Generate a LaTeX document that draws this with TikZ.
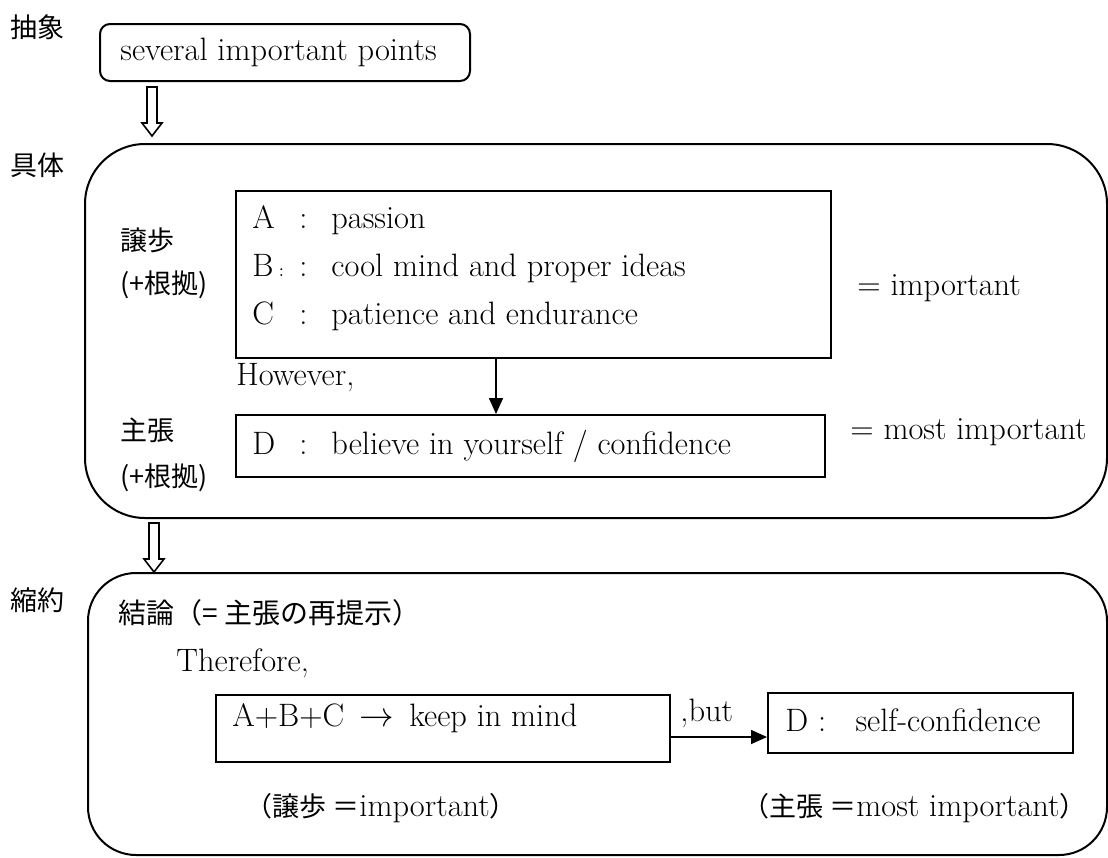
\documentclass[tikz,border=0pt]{standalone}
\usepackage{fontspec}
\newfontfamily\jp{Noto Sans CJK JP}
\usetikzlibrary{calc,positioning,arrows.meta}

\tikzset{
  box/.style={draw, line width=1pt, inner sep=0pt},
  roundbox/.style={box, rounded corners=#1},
  txt/.style={anchor=west, inner sep=0pt},
  jlbl/.style={txt, font=\jp\fontsize{13.5}{15}\selectfont},
  link/.style={-{Triangle[length=8pt,width=7pt]}, line width=0.8pt},
  fat/.style={draw, line width=0.8pt, fill=white, line join=miter},
}
\newcommand{\hollowdown}[1]{\draw[fat] (#1) ++(-5,0) -- ++(0,36) -- ++(-5,0) -- ++(10,13) -- ++(10,-13) -- ++(-5,0) -- ++(0,-36) -- cycle;}
\newcommand{\tag}[2]{\makebox[23.5pt][l]{#1}\makebox[16pt][l]{:}#2}
\newcommand{\jps}{\jp\fontsize{13.5}{15}\selectfont}

\begin{document}
\begin{tikzpicture}[x=0.5pt, y=-0.5pt, font=\fontsize{16.2}{18}\selectfont]
\useasboundingbox (0,0) rectangle (1108,857);

% abstract
\node[jlbl] (abs) at (10,27) {抽象};
\node[roundbox=5pt, minimum width=185pt, minimum height=28.5pt] (top) at (285,52.5) {};
\node[txt] (pts) at (120,52) {several important points};
\hollowdown{$(top.south west)+(53,5)$}

% concrete
\node[jlbl] (con) at (10,165) {具体};
\node[roundbox=30pt, minimum width=511pt, minimum height=187pt] (mid) at (596,331) {};
\node[jlbl] (conc) at (120,240) {譲歩};
\node[jlbl] (concr) at (120,285) {(+根拠)};
\node[box, minimum width=297.5pt, minimum height=83.5pt] (abc) at (533.5,274.5) {};
\node[txt] (la) at (252,220) {\tag{A}{passion}};
\node[txt] (lb) at (252,268) {\tag{B\,{\small:}}{cool mind and proper ideas}};
\node[txt] (lc) at (252,316) {\tag{C}{patience and endurance}};
\node[txt] (imp) at (857,288) {= important};
\node[txt] (how) at (236,378) {However,};
\node[jlbl] (cla) at (120,430) {主張};
\node[jlbl] (clar) at (120,478) {(+根拠)};
\node[box, minimum width=294.5pt, minimum height=31pt] (dbox) at (530.5,446) {};
\node[txt] (ld) at (252,446) {\tag{D}{believe in yourself / confidence}};
\node[txt] (mimp) at (850,432) {= most important};
\coordinate (k) at (496,0);
\draw[link] (abc.south -| k) -- (dbox.north -| k);
\hollowdown{$(mid.south west)+(70,4)$}

% reduction
\node[jlbl] (red) at (10,600) {縮約};
\node[roundbox=24pt, minimum width=509.5pt, minimum height=141pt] (bot) at (597.5,714) {};
\node[jlbl, font=\jp\fontsize{14}{16}\selectfont] (concl) at (118,613) {結論（= 主張の再提示）};
\node[txt] (there) at (176,663) {Therefore,};
\node[box, minimum width=227pt, minimum height=33.5pt] (keep) at (443,728.5) {};
\node[txt] (lk) at (232,718) {A+B+C \,$\rightarrow$\, keep in mind};
\node[box, minimum width=152.5pt, minimum height=30pt] (sc) at (920.5,723) {};
\node[txt] (ls) at (785,720) {D :\ \ \ self-confidence};
\coordinate (bb) at (0,737);
\draw[link] (keep.east |- bb) -- (sc.west |- bb);
\node[txt] (but) at (680,713) {,but};
\node[txt] (nimp) at (245,808) {{\jps （譲歩 ＝}important{\jps ）}};
\node[txt] (nmimp) at (742,808) {{\jps （主張 ＝}most important{\jps ）}};
\end{tikzpicture}
\end{document}
